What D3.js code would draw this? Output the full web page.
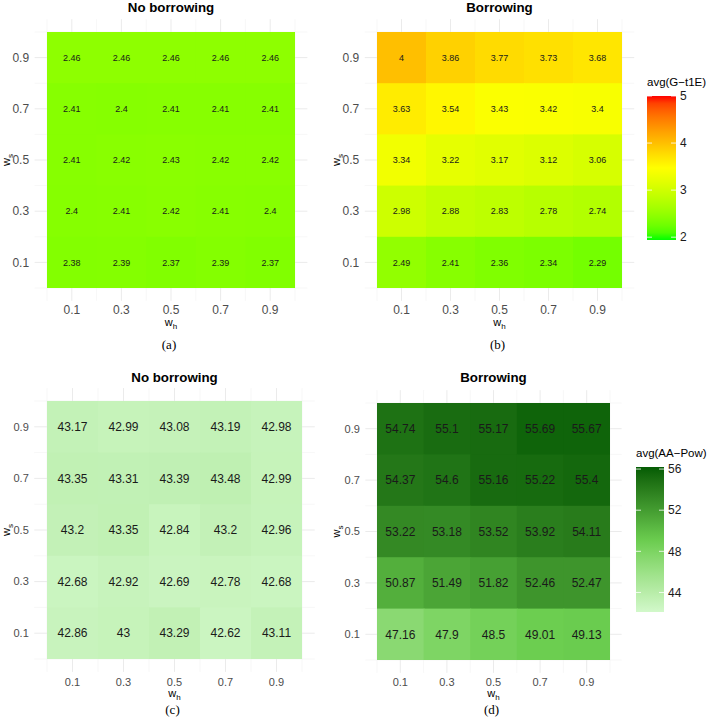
<!DOCTYPE html>
<html>
<head>
<meta charset="utf-8">
<script src="https://cdn.jsdelivr.net/npm/d3@7"></script>
<style>
  body { margin: 0; background: #fff; }
  svg { font-family: "Liberation Sans", Arial, Helvetica, sans-serif; }
</style>
</head>
<body>
<div id="chart-area"></div>
<script>
// weights on the axes
const wh = [0.1, 0.3, 0.5, 0.7, 0.9]
const ws = [0.9, 0.7, 0.5, 0.3, 0.1]   // rows, top to bottom

// avg(G-t1E)
const t1eNoBorrow = [
  [2.46, 2.46, 2.46, 2.46, 2.46],
  [2.41, 2.4, 2.41, 2.41, 2.41],
  [2.41, 2.42, 2.43, 2.42, 2.42],
  [2.4, 2.41, 2.42, 2.41, 2.4],
  [2.38, 2.39, 2.37, 2.39, 2.37]
]
const t1eBorrow = [
  [4, 3.86, 3.77, 3.73, 3.68],
  [3.63, 3.54, 3.43, 3.42, 3.4],
  [3.34, 3.22, 3.17, 3.12, 3.06],
  [2.98, 2.88, 2.83, 2.78, 2.74],
  [2.49, 2.41, 2.36, 2.34, 2.29]
]
// avg(AA-Pow)
const powNoBorrow = [
  [43.17, 42.99, 43.08, 43.19, 42.98],
  [43.35, 43.31, 43.39, 43.48, 42.99],
  [43.2, 43.35, 42.84, 43.2, 42.96],
  [42.68, 42.92, 42.69, 42.78, 42.68],
  [42.86, 43, 43.29, 42.62, 43.11]
]
const powBorrow = [
  [54.74, 55.1, 55.17, 55.69, 55.67],
  [54.37, 54.6, 55.16, 55.22, 55.4],
  [53.22, 53.18, 53.52, 53.92, 54.11],
  [50.87, 51.49, 51.82, 52.46, 52.47],
  [47.16, 47.9, 48.5, 49.01, 49.13]
]

const t1eTicks = [2, 3, 4, 5]
const powTicks = [44, 48, 52, 56]

const t1eColor = d3.scaleLinear()
  .domain([1.94, 3.47, 5])
  .range(["#00ff00", "#ffff00", "#ff0000"])
  .interpolate(d3.interpolateLab)

const powColor = d3.scaleLinear()
  .domain([42.1, 49, 56.2])
  .range(["#d2f8ca", "#6cce50", "#045c04"])
  .interpolate(d3.interpolateLab)

const svg = d3.select("#chart-area").append("svg")
  .attr("width", 709)
  .attr("height", 720)

function drawPanel(p) {
  const g = svg.append("g")
  const x = d3.scaleLinear().domain([0, 1]).range([p.left, p.right])
  const y = d3.scaleLinear().domain([0, 1]).range([p.bottom, p.top])
  const x0 = x(-0.05), x1 = x(1.05), y0 = y(-0.05), y1 = y(1.05)

  // grid (theme_minimal), sits under the tiles
  const minor = d3.range(0, 1.01, 0.2)
  g.selectAll(".vmin").data(minor).enter().append("line")
    .attr("x1", d => x(d)).attr("x2", d => x(d))
    .attr("y1", y0).attr("y2", y1)
    .attr("stroke", "#f2f2f2").attr("stroke-width", 0.6)
  g.selectAll(".hmin").data(minor).enter().append("line")
    .attr("y1", d => y(d)).attr("y2", d => y(d))
    .attr("x1", x0).attr("x2", x1)
    .attr("stroke", "#f2f2f2").attr("stroke-width", 0.6)
  g.selectAll(".vmaj").data(wh).enter().append("line")
    .attr("x1", d => x(d)).attr("x2", d => x(d))
    .attr("y1", y0).attr("y2", y1)
    .attr("stroke", "#ebebeb").attr("stroke-width", 1)
  g.selectAll(".hmaj").data(ws).enter().append("line")
    .attr("y1", d => y(d)).attr("y2", d => y(d))
    .attr("x1", x0).attr("x2", x1)
    .attr("stroke", "#ebebeb").attr("stroke-width", 1)

  const cells = []
  p.values.forEach((row, i) => row.forEach((v, j) => cells.push({ r: ws[i], c: wh[j], v })))

  g.selectAll("rect.tile").data(cells).enter().append("rect")
    .attr("class", "tile")
    .attr("x", d => x(d.c - 0.1))
    .attr("y", d => y(d.r + 0.1))
    .attr("width", d => x(d.c + 0.1) - x(d.c - 0.1) + (d.c < 0.8 ? 1 : 0))
    .attr("height", d => y(d.r - 0.1) - y(d.r + 0.1) + (d.r > 0.2 ? 1 : 0))
    .attr("fill", d => p.color(d.v))

  g.selectAll("text.val").data(cells).enter().append("text")
    .attr("x", d => x(d.c))
    .attr("y", d => y(d.r))
    .attr("dy", "0.35em")
    .attr("text-anchor", "middle")
    .attr("font-size", p.valueSize + "px")
    .attr("fill", "#1a1a1a")
    .text(d => d.v)

  // tick labels
  g.selectAll("text.xt").data(wh).enter().append("text")
    .attr("x", d => x(d)).attr("y", p.bottom + p.xTickDy)
    .attr("text-anchor", "middle")
    .attr("font-size", p.tickSize + "px")
    .attr("fill", "#4d4d4d")
    .text(d => d)
  g.selectAll("text.yt").data(ws).enter().append("text")
    .attr("x", x0 - 5.5).attr("y", d => y(d))
    .attr("dy", "0.35em")
    .attr("text-anchor", "end")
    .attr("font-size", p.tickSize + "px")
    .attr("fill", "#4d4d4d")
    .text(d => d)

  // axis titles
  const xt = g.append("text")
    .attr("x", (p.left + p.right) / 2).attr("y", p.bottom + p.xTitleDy)
    .attr("text-anchor", "middle")
    .attr("font-size", "11px")
    .attr("fill", "#000")
  xt.append("tspan").text("w")
  xt.append("tspan").attr("font-size", "8px").attr("dy", 3).text("h")

  const yc = (y0 + y1) / 2
  const yt = g.append("text")
    .attr("transform", `translate(${p.yTitleX}, ${yc}) rotate(-90)`)
    .attr("text-anchor", "middle")
    .attr("font-size", "11px")
    .attr("fill", "#000")
  yt.append("tspan").text("w")
  yt.append("tspan").attr("font-size", "8px").attr("dy", 3).text("s")

  // title
  g.append("text")
    .attr("x", (p.left + p.right) / 2).attr("y", p.titleY)
    .attr("text-anchor", "middle")
    .attr("font-size", "13.3px")
    .attr("font-weight", "bold")
    .attr("fill", "#000")
    .text(p.title)

  // caption (a)...(d)
  g.append("text")
    .attr("x", (p.left + p.right) / 2 - 2).attr("y", p.captionY)
    .attr("text-anchor", "middle")
    .style("font-family", "'Liberation Serif', 'Times New Roman', serif")
    .attr("font-size", "13px")
    .attr("fill", "#000")
    .text(p.caption)
}

function drawLegend(l) {
  const g = svg.append("g")
  const yl = d3.scaleLinear().domain(l.domain).range([l.bottom, l.top])
  const id = "grad-" + l.id
  const grad = svg.append("defs").append("linearGradient")
    .attr("id", id).attr("x1", 0).attr("x2", 0).attr("y1", 1).attr("y2", 0)
  d3.range(0, 1.001, 0.05).forEach(t => {
    grad.append("stop")
      .attr("offset", t)
      .attr("stop-color", l.color(l.domain[0] + t * (l.domain[1] - l.domain[0])))
  })
  g.append("rect")
    .attr("x", l.left).attr("y", l.top)
    .attr("width", l.width).attr("height", l.bottom - l.top)
    .attr("fill", `url(#${id})`)
  l.ticks.forEach(t => {
    g.append("line")
      .attr("x1", l.left).attr("x2", l.left + 5)
      .attr("y1", yl(t)).attr("y2", yl(t))
      .attr("stroke", "#fff").attr("stroke-width", 0.8)
    g.append("line")
      .attr("x1", l.left + l.width - 5).attr("x2", l.left + l.width)
      .attr("y1", yl(t)).attr("y2", yl(t))
      .attr("stroke", "#fff").attr("stroke-width", 0.8)
  })
  g.selectAll("text.lt").data(l.ticks).enter().append("text")
    .attr("x", l.left + l.width + 4).attr("y", d => yl(d))
    .attr("dy", "0.35em")
    .attr("font-size", "12px")
    .attr("fill", "#1a1a1a")
    .text(d => d)
  g.append("text")
    .attr("x", l.left).attr("y", l.top - 10)
    .attr("font-size", "11.5px")
    .attr("fill", "#000")
    .text(l.title)
}

drawPanel({ left: 47, right: 295, top: 32, bottom: 288, values: t1eNoBorrow, color: t1eColor,
  valueSize: 9, tickSize: 12, xTickDy: 26, xTitleDy: 38, yTitleX: 10, titleY: 12, captionY: 349,
  title: "No borrowing", caption: "(a)" })
drawPanel({ left: 377, right: 622, top: 32, bottom: 288, values: t1eBorrow, color: t1eColor,
  valueSize: 9, tickSize: 12, xTickDy: 26, xTitleDy: 38, yTitleX: 340, titleY: 12, captionY: 349,
  title: "Borrowing", caption: "(b)" })
drawPanel({ left: 47, right: 302, top: 401, bottom: 659, values: powNoBorrow, color: powColor,
  valueSize: 12, tickSize: 11, xTickDy: 27, xTitleDy: 38, yTitleX: 10, titleY: 382, captionY: 714,
  title: "No borrowing", caption: "(c)" })
drawPanel({ left: 377, right: 610, top: 403, bottom: 660, values: powBorrow, color: powColor,
  valueSize: 12, tickSize: 11, xTickDy: 26, xTitleDy: 37, yTitleX: 340, titleY: 382, captionY: 714,
  title: "Borrowing", caption: "(d)" })

drawLegend({ id: "t1e", left: 647, width: 29, top: 96, bottom: 240, domain: [1.94, 5],
  color: t1eColor, ticks: t1eTicks, title: "avg(G\u2212t1E)" })
drawLegend({ id: "pow", left: 636, width: 28, top: 467, bottom: 612, domain: [42.1, 56.2],
  color: powColor, ticks: powTicks, title: "avg(AA\u2212Pow)" })
</script>
</body>
</html>
